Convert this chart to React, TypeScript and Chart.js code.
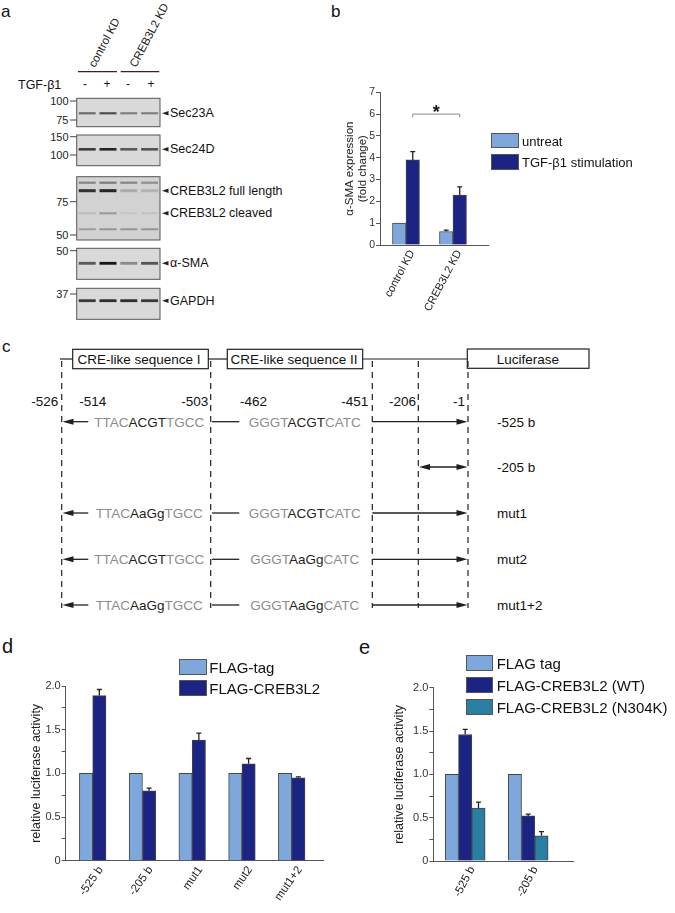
import React, { useEffect, useRef } from 'react';
import { Chart, registerables } from 'chart.js';

Chart.register(...registerables);

const FONT = '"Liberation Sans", Arial, Helvetica, sans-serif';
Chart.defaults.font.family = FONT;

// ---------------- chart data ----------------
// panel b
const bCategories = ['control KD', 'CREB3L2 KD'];
const bSeriesNames = ['untreat', 'TGF-β1 stimulation'];
const bUntreat = [1.0, 0.62];
const bUntreatErr = [0, 0.06];
const bTgf = [3.9, 2.29];
const bTgfErr = [0.38, 0.37];
const bYMax = 7;
const bSigLevel = 6;

// panel d
const dCategories = ['-525 b', '-205 b', 'mut1', 'mut2', 'mut1+2'];
const dSeriesNames = ['FLAG-tag', 'FLAG-CREB3L2'];
const dTag = [1, 1, 1, 1, 1];
const dCreb = [1.89, 0.8, 1.38, 1.11, 0.95];
const dCrebErr = [0.07, 0.03, 0.08, 0.06, 0.01];

// panel e
const eCategories = ['-525 b', '-205 b'];
const eSeriesNames = ['FLAG tag', 'FLAG-CREB3L2 (WT)', 'FLAG-CREB3L2 (N304K)'];
const eTag = [1, 1];
const eWT = [1.46, 0.52];
const eWTErr = [0.06, 0.02];
const eMut = [0.61, 0.29];
const eMutErr = [0.07, 0.05];

const lucYMax = 2;

// ---------------- styles ----------------
const LIGHT = '#7ea8dc';
const NAVY = '#1b2483';
const TEAL = '#2a7ea1';
const AXIS = '#555';
const INK = '#231f20';
const GREY_NT = '#8c8c8c';

const errorBarPlugin = {
  id: 'errBars',
  afterDatasetsDraw(chart: any) {
    const ctx = chart.ctx;
    const yScale = chart.scales.y;
    chart.data.datasets.forEach((ds: any, di: number) => {
      const errs = ds.errors;
      if (!errs) return;
      const meta = chart.getDatasetMeta(di);
      meta.data.forEach((bar: any, i: number) => {
        const e = errs[i];
        if (!e) return;
        const v = ds.data[i].y;
        const x = bar.x;
        const y0 = yScale.getPixelForValue(v);
        const y1 = yScale.getPixelForValue(v + e);
        ctx.save();
        ctx.strokeStyle = '#222';
        ctx.lineWidth = 1.3;
        ctx.beginPath();
        ctx.moveTo(x, y0);
        ctx.lineTo(x, y1);
        ctx.moveTo(x - 2.5, y1);
        ctx.lineTo(x + 2.5, y1);
        ctx.stroke();
        ctx.restore();
      });
    });
  },
};

const sigPlugin = {
  id: 'sig',
  afterDatasetsDraw(chart: any) {
    const ctx = chart.ctx;
    const meta = chart.getDatasetMeta(1);
    const x0 = meta.data[0].x;
    const x1 = meta.data[1].x;
    const y = chart.scales.y.getPixelForValue(bSigLevel);
    ctx.save();
    ctx.strokeStyle = '#888';
    ctx.lineWidth = 1;
    ctx.beginPath();
    ctx.moveTo(x0, y + 3);
    ctx.lineTo(x0, y);
    ctx.lineTo(x1, y);
    ctx.lineTo(x1, y + 3);
    ctx.stroke();
    ctx.fillStyle = '#111';
    ctx.font = 'bold 18px ' + FONT;
    ctx.textAlign = 'center';
    ctx.textBaseline = 'alphabetic';
    ctx.fillText('*', (x0 + x1) / 2, y + 4);
    ctx.restore();
  },
};

function BarChart(props: any) {
  const ref = useRef<HTMLCanvasElement>(null);
  useEffect(() => {
    const {
      categories, datasets, xMin, xMax, yMax, yStep, yLabel, area, width, height,
      title, rotation, labelOffset, barThickness, extraPlugins, xFont, yFont,
    } = props;
    const chart = new Chart(ref.current as HTMLCanvasElement, {
      type: 'bar',
      data: {
        datasets: datasets.map((ds: any) => ({
          label: ds.label,
          data: ds.values.map((v: number, i: number) => ({ x: i + 1, y: v })),
          errors: ds.errors,
          backgroundColor: ds.color,
          borderColor: '#454545',
          borderWidth: 1,
          barThickness,
        })),
      } as any,
      options: {
        responsive: false,
        animation: false,
        devicePixelRatio: 1,
        layout: { padding: { left: 0, top: area.top, right: width - area.right, bottom: 0 } },
        plugins: { legend: { display: false }, tooltip: { enabled: false } },
        scales: {
          x: {
            type: 'linear',
            min: xMin,
            max: xMax,
            offset: false,
            bounds: 'data',
            grid: { display: false, drawTicks: false, offset: false },
            border: { display: true, color: AXIS, width: 1 },
            afterBuildTicks: (s: any) => {
              s.ticks = categories.map((_: string, i: number) => ({ value: i + 1 }));
            },
            afterFit: (s: any) => {
              s.height = height - area.bottom;
            },
            ticks: {
              autoSkip: false,
              minRotation: rotation,
              maxRotation: rotation,
              padding: 3,
              labelOffset,
              color: '#222',
              font: { size: xFont, family: FONT },
              callback: (v: any) => categories[Math.round(Number(v)) - 1] ?? '',
            },
          },
          y: {
            type: 'linear',
            min: 0,
            max: yMax,
            grid: { drawOnChartArea: false, drawTicks: true, tickLength: 4, color: AXIS },
            border: { display: true, color: AXIS, width: 1 },
            afterFit: (s: any) => {
              s.width = area.left;
            },
            ticks: {
              stepSize: yStep,
              padding: 1,
              color: '#333',
              font: { size: yFont, family: FONT },
              callback: yLabel,
            },
            title: {
              display: true,
              text: title.text,
              padding: { top: title.pad, bottom: 0 },
              color: '#222',
              font: { size: title.size, family: FONT, lineHeight: title.lh },
            },
          },
        },
      } as any,
      plugins: [errorBarPlugin, ...(extraPlugins || [])],
    });
    return () => chart.destroy();
  }, []);
  return (
    <canvas
      ref={ref}
      width={props.width}
      height={props.height}
      style={{ position: 'absolute', left: props.left, top: props.top, width: props.width, height: props.height }}
    />
  );
}

const lucTickLabel = (v: any) => {
  const n = Number(v);
  if (Math.abs(n * 2 - Math.round(n * 2)) > 1e-6) return '';
  return n === 0 ? '0' : n.toFixed(1);
};

function Legend(props: any) {
  const { left, top, step, boxW, boxH, textX, fontSize, names, colors } = props;
  return (
    <>
      {names.map((n: string, i: number) => (
        <React.Fragment key={i}>
          <div
            style={{
              position: 'absolute', left, top: top + i * step, width: boxW, height: boxH,
              background: colors[i], border: '1px solid #555', boxSizing: 'border-box',
            }}
          />
          <div
            style={{
              position: 'absolute', left: textX, top: top + i * step + boxH / 2, transform: 'translateY(-50%)',
              fontSize, lineHeight: 1, whiteSpace: 'nowrap', color: '#111', fontFamily: FONT,
            }}
          >
            {n}
          </div>
        </React.Fragment>
      ))}
    </>
  );
}

// ---------------- blot / diagram layout ----------------
const LANES = [87.2, 108, 128.8, 149.6];
const BLOT_LAYOUT = [
  { top: 98.3, bottom: 126.7, marks: [['100', 101], ['75', 120]], bands: [[113.3, 2.2, [0.55, 0.7, 0.45, 0.45]]], names: [['Sec23A', 113.3]] },
  { top: 135, bottom: 165.7, marks: [['150', 136.7], ['100', 155]], bands: [[149.3, 2.6, [0.8, 0.92, 0.65, 0.68]]], names: [['Sec24D', 149.3]] },
  {
    top: 176.7, bottom: 240, marks: [['75', 201.7], ['50', 235]],
    bands: [[182.7, 2.2, [0.4, 0.45, 0.4, 0.35]], [190.7, 3, [0.85, 0.92, 0.2, 0.16]], [213.3, 2.2, [0.1, 0.28, 0.05, 0.07]], [229.3, 2, [0.28, 0.32, 0.32, 0.32]]],
    names: [['CREB3L2 full length', 190.7], ['CREB3L2 cleaved', 213.3]],
  },
  { top: 248.3, bottom: 279.3, marks: [['50', 250.7]], bands: [[263.3, 2.8, [0.65, 1, 0.4, 0.68]]], names: [['α-SMA', 263.3]] },
  { top: 288.3, bottom: 319.3, marks: [['37', 294]], bands: [[300.7, 2.8, [0.82, 0.88, 0.88, 0.82]]], names: [['GAPDH', 300.7]] },
];

const SEQ_WT1 = [['TTAC', GREY_NT], ['ACGT', INK], ['TGCC', GREY_NT]];
const SEQ_MU1 = [['TTAC', GREY_NT], ['AaGg', INK], ['TGCC', GREY_NT]];
const SEQ_WT2 = [['GGGT', GREY_NT], ['ACGT', INK], ['CATC', GREY_NT]];
const SEQ_MU2 = [['GGGT', GREY_NT], ['AaGg', INK], ['CATC', GREY_NT]];
const CONSTRUCTS = [
  { y: 421.7, label: '-525 b', s1: SEQ_WT1, s2: SEQ_WT2 },
  { y: 467, label: '-205 b', s1: null, s2: null },
  { y: 513, label: 'mut1', s1: SEQ_MU1, s2: SEQ_WT2 },
  { y: 559.3, label: 'mut2', s1: SEQ_WT1, s2: SEQ_MU2 },
  { y: 605, label: 'mut1+2', s1: SEQ_MU1, s2: SEQ_MU2 },
];
const DASH_X = [61.7, 210.7, 372.3, 418.3, 468];
const POS_LABELS: [string, number, string][] = [
  ['-526', 58.3, 'end'], ['-514', 79.3, 'start'], ['-503', 208.3, 'end'], ['-462', 240, 'start'],
  ['-451', 368.3, 'end'], ['-206', 416, 'end'], ['-1', 465, 'end'],
];

function ArrowHead({ tipX, y, dir }: any) {
  const L = 11;
  const h = 3;
  const bx = tipX - dir * L;
  return <polygon points={`${tipX},${y} ${bx},${y - h} ${bx},${y + h}`} fill={INK} />;
}

function Seq({ x, y, parts }: any) {
  return (
    <text x={x} y={y} textAnchor="middle" dominantBaseline="central" fontSize={13.5}>
      {parts.map((p: any, i: number) => (
        <tspan key={i} fill={p[1]}>{p[0]}</tspan>
      ))}
    </text>
  );
}

function Figure() {
  return (
    <svg width={675} height={913} style={{ position: 'absolute', left: 0, top: 0 }} fontFamily={FONT}>
      <defs>
        <filter id="blur" x="-20%" y="-200%" width="140%" height="500%">
          <feGaussianBlur stdDeviation="0.7" />
        </filter>
      </defs>
      {/* panel labels */}
      <text x={1} y={17} fontSize={17} fill="#111">a</text>
      <text x={331} y={17} fontSize={17} fill="#111">b</text>
      <text x={2} y={352} fontSize={17} fill="#111">c</text>
      <text x={2} y={653} fontSize={20} fill="#111">d</text>
      <text x={359} y={654} fontSize={20} fill="#111">e</text>

      {/* panel a header */}
      <text transform="translate(95,68) rotate(-62)" fontSize={11.5} fill="#222">control KD</text>
      <text transform="translate(136,68) rotate(-62)" fontSize={11.5} fill="#222">CREB3L2 KD</text>
      <line x1={78} y1={71.7} x2={117} y2={71.7} stroke="#3a2222" strokeWidth={1.3} />
      <line x1={120.7} y1={71.7} x2={159.3} y2={71.7} stroke="#3a2222" strokeWidth={1.3} />
      <text x={18} y={85} dominantBaseline="central" fontSize={12.5} fill="#111">TGF-β1</text>
      {['-', '+', '-', '+'].map((s, i) => (
        <text key={i} x={[85, 107, 128, 151][i]} y={84} textAnchor="middle" dominantBaseline="central" fontSize={12} fill="#111">{s}</text>
      ))}

      {/* blots */}
      {BLOT_LAYOUT.map((b, bi) => (
        <g key={bi}>
          <rect x={76.7} y={b.top} width={83.3} height={b.bottom - b.top} fill={bi === 2 ? '#d2d2d2' : '#d9d9d9'} stroke="#555" strokeWidth={1} />
          {b.bands.map((band: any, k: number) =>
            LANES.map((lx, li) => (
              <rect key={`${k}-${li}`} x={lx - 8.5} y={band[0] - band[1] / 2} width={17} height={band[1]} fill="#151515" opacity={band[2][li]} filter="url(#blur)" />
            ))
          )}
          {b.marks.map((m: any, k: number) => (
            <g key={k}>
              <text x={68.5} y={m[1]} textAnchor="end" dominantBaseline="central" fontSize={11} fill="#222">{m[0]}</text>
              <line x1={70} y1={m[1]} x2={76.7} y2={m[1]} stroke="#444" strokeWidth={1} />
            </g>
          ))}
          {b.names.map((n: any, k: number) => (
            <g key={k}>
              <polygon points={`${162},${n[1]} ${168.5},${n[1] - 2.3} ${168.5},${n[1] + 2.3}`} fill="#222" />
              <text x={170} y={n[1]} dominantBaseline="central" fontSize={12.5} fill="#111">{n[0]}</text>
            </g>
          ))}
        </g>
      ))}

      {/* panel c */}
      <line x1={60} y1={359} x2={72.7} y2={359} stroke={INK} strokeWidth={1.2} />
      <line x1={208.3} y1={359} x2={227.3} y2={359} stroke={INK} strokeWidth={1.2} />
      <line x1={362.7} y1={359} x2={467.3} y2={359} stroke={INK} strokeWidth={1.2} />
      <rect x={72.7} y={349.3} width={135.6} height={19.4} fill="#fff" stroke={INK} strokeWidth={1.2} />
      <rect x={227.3} y={349.3} width={135.4} height={19.4} fill="#fff" stroke={INK} strokeWidth={1.2} />
      <rect x={467.3} y={349} width={121.7} height={19.3} fill="#fff" stroke={INK} strokeWidth={1.2} />
      <text x={139} y={359.5} textAnchor="middle" dominantBaseline="central" fontSize={13.5} fill="#111">CRE-like sequence I</text>
      <text x={294} y={359.5} textAnchor="middle" dominantBaseline="central" fontSize={13.5} fill="#111">CRE-like sequence II</text>
      <text x={528} y={359} textAnchor="middle" dominantBaseline="central" fontSize={13.5} fill="#111">Luciferase</text>
      {DASH_X.map((x, i) => (
        <line key={i} x1={x} y1={361} x2={x} y2={608} stroke={INK} strokeWidth={1.2} strokeDasharray="6 5" />
      ))}
      {POS_LABELS.map((p, i) => (
        <text key={i} x={p[1]} y={401.7} textAnchor={p[2] as any} dominantBaseline="central" fontSize={13.5} fill="#111">{p[0]}</text>
      ))}
      {CONSTRUCTS.map((c, i) => (
        <g key={i}>
          {c.s1 ? (
            <>
              <line x1={70} y1={c.y} x2={88.3} y2={c.y} stroke={INK} strokeWidth={1.3} />
              <ArrowHead tipX={62.5} y={c.y} dir={-1} />
              <Seq x={149.2} y={c.y} parts={c.s1} />
              <line x1={212} y1={c.y} x2={239.3} y2={c.y} stroke={INK} strokeWidth={1.3} />
              <Seq x={304.7} y={c.y} parts={c.s2} />
              <line x1={372.3} y1={c.y} x2={460} y2={c.y} stroke={INK} strokeWidth={1.3} />
              <ArrowHead tipX={467.5} y={c.y} dir={1} />
            </>
          ) : (
            <>
              <line x1={426} y1={c.y} x2={460} y2={c.y} stroke={INK} strokeWidth={1.3} />
              <ArrowHead tipX={419} y={c.y} dir={-1} />
              <ArrowHead tipX={467.5} y={c.y} dir={1} />
            </>
          )}
          <text x={497} y={c.y + 0.5} dominantBaseline="central" fontSize={13.5} fill="#111">{c.label}</text>
        </g>
      ))}
    </svg>
  );
}

export default function App() {
  return (
    <div style={{ position: 'absolute', left: 0, top: 0, width: 675, height: 913, background: '#fff', overflow: 'hidden', fontFamily: FONT }}>
      <Figure />
      <BarChart
        left={330} top={60} width={170} height={260}
        area={{ left: 50, top: 32.3, right: 158, bottom: 185 }}
        categories={bCategories}
        datasets={[
          { label: bSeriesNames[0], values: bUntreat, errors: bUntreatErr, color: LIGHT },
          { label: bSeriesNames[1], values: bTgf, errors: bTgfErr, color: NAVY },
        ]}
        xMin={0.447} xMax={2.745} yMax={bYMax} yStep={1}
        yLabel={(v: any) => String(v)}
        title={{ text: ['α-SMA expression', '(fold change)'], pad: 13.5, size: 11.5, lh: 1.13 }}
        rotation={62} labelOffset={6} barThickness={13.5} xFont={11} yFont={10.5}
        extraPlugins={[sigPlugin]}
      />
      <Legend left={491} top={132.7} step={21.6} boxW={28} boxH={15.6} textX={522} fontSize={13}
        names={bSeriesNames} colors={[LIGHT, NAVY]} />

      <BarChart
        left={0} top={630} width={340} height={283}
        area={{ left: 65.7, top: 56, right: 323, bottom: 230.7 }}
        categories={dCategories}
        datasets={[
          { label: dSeriesNames[0], values: dTag, errors: null, color: LIGHT },
          { label: dSeriesNames[1], values: dCreb, errors: dCrebErr, color: NAVY },
        ]}
        xMin={0.4573} xMax={5.629} yMax={lucYMax} yStep={0.25}
        yLabel={lucTickLabel}
        title={{ text: 'relative luciferase activity', pad: 29.2, size: 12.5, lh: 1.2 }}
        rotation={55} labelOffset={8} barThickness={13.3} xFont={11.5} yFont={11}
      />
      <Legend left={179} top={659.3} step={20.7} boxW={27.7} boxH={16} textX={209.3} fontSize={15}
        names={dSeriesNames} colors={[LIGHT, NAVY]} />

      <BarChart
        left={340} top={630} width={335} height={283}
        area={{ left: 93.3, top: 57.7, right: 233.3, bottom: 231 }}
        categories={eCategories}
        datasets={[
          { label: eSeriesNames[0], values: eTag, errors: null, color: LIGHT },
          { label: eSeriesNames[1], values: eWT, errors: eWTErr, color: NAVY },
          { label: eSeriesNames[2], values: eMut, errors: eMutErr, color: TEAL },
        ]}
        xMin={0.494} xMax={2.716} yMax={lucYMax} yStep={0.25}
        yLabel={lucTickLabel}
        title={{ text: 'relative luciferase activity', pad: 52.5, size: 12.5, lh: 1.2 }}
        rotation={62} labelOffset={7} barThickness={13.3} xFont={11.5} yFont={11}
      />
      <Legend left={466} top={655} step={22.2} boxW={27.3} boxH={16} textX={496.7} fontSize={15}
        names={eSeriesNames} colors={[LIGHT, NAVY, TEAL]} />
    </div>
  );
}
